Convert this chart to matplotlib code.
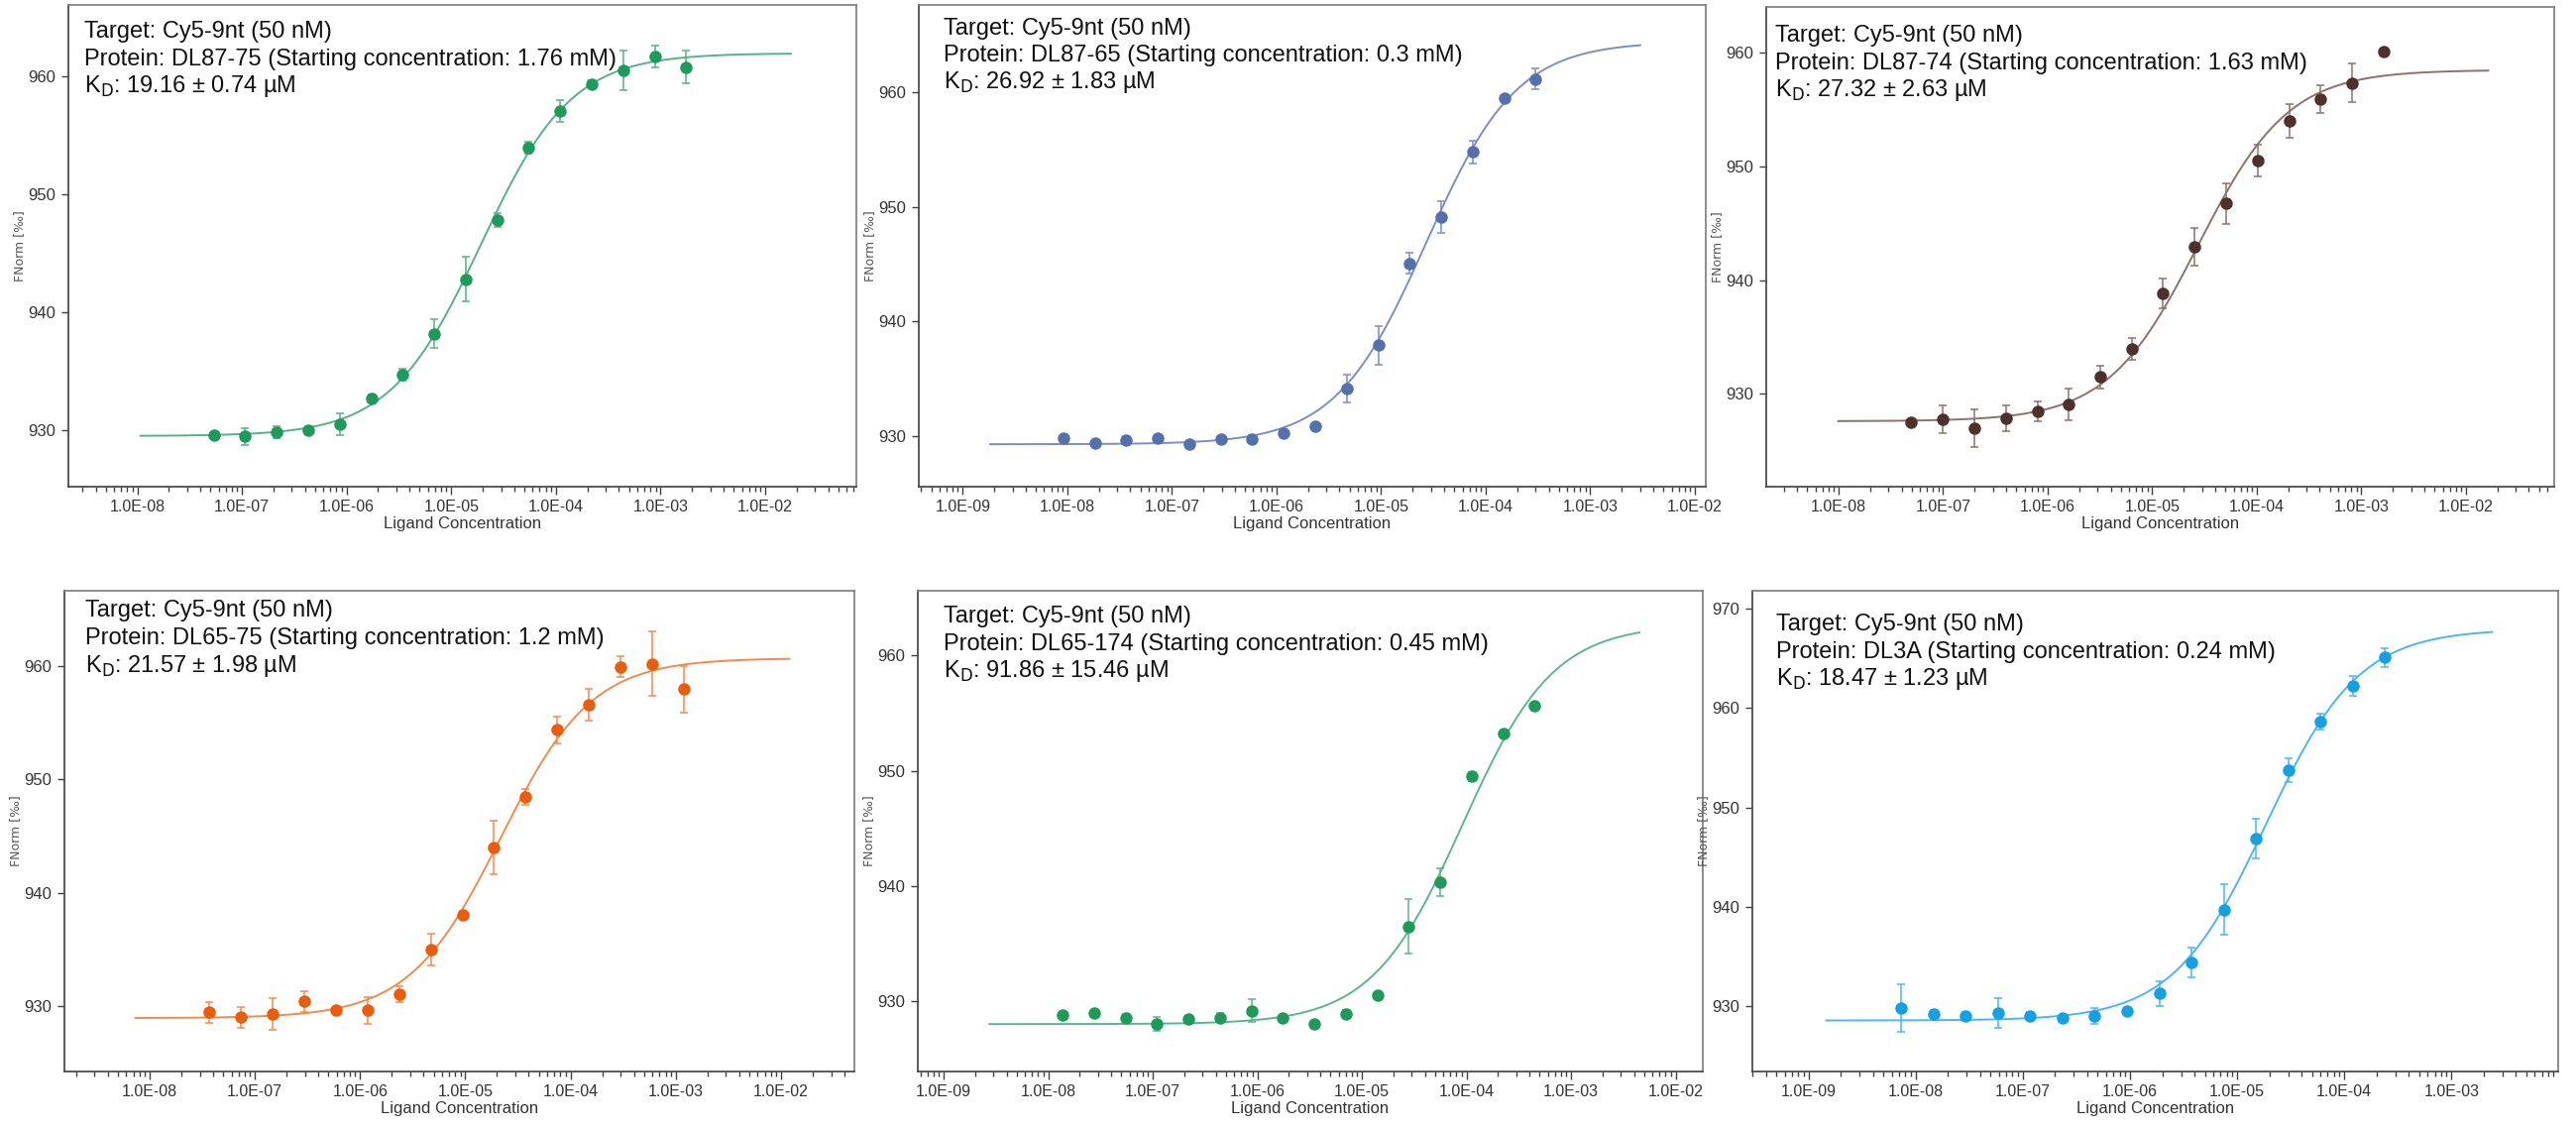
import numpy as np
import matplotlib
matplotlib.use("Agg")
import matplotlib.pyplot as plt
from matplotlib.ticker import FixedLocator, FuncFormatter, LogLocator, NullFormatter

plt.rcParams['font.family'] = ['Liberation Sans Narrow', 'Liberation Sans', 'DejaVu Sans']
plt.rcParams['mathtext.fontset'] = 'custom'
plt.rcParams['mathtext.rm'] = 'Liberation Sans Narrow'

W, H = 2599, 1137

# ---- data, concentrations in M, low -> high ----
conc_1 = [5.37e-8, 1.07e-7, 2.15e-7, 4.30e-7, 8.59e-7, 1.72e-6, 3.44e-6, 6.88e-6,
          1.375e-5, 2.75e-5, 5.5e-5, 1.1e-4, 2.2e-4, 4.4e-4, 8.8e-4, 1.76e-3]
fnorm_1 = [929.55, 929.46, 929.8, 930.0, 930.5, 932.7, 934.74, 938.2,
           942.8, 947.85, 954.0, 957.1, 959.4, 960.54, 961.74, 960.84]
err_1 = [0.3, 0.7, 0.5, 0.3, 0.9, 0.3, 0.5, 1.2, 1.9, 0.6, 0.5, 0.9, 0.3, 1.65, 0.9, 1.4]

conc_2 = [9.16e-9, 1.83e-8, 3.66e-8, 7.32e-8, 1.46e-7, 2.93e-7, 5.86e-7, 1.17e-6,
          2.34e-6, 4.69e-6, 9.38e-6, 1.875e-5, 3.75e-5, 7.5e-5, 1.5e-4, 3.0e-4]
fnorm_2 = [929.8, 929.44, 929.63, 929.8, 929.29, 929.75, 929.72, 930.3,
           930.84, 934.18, 937.92, 945.06, 949.1, 954.8, 959.45, 961.15]
err_2 = [0.2, 0.2, 0.35, 0.2, 0.2, 0.2, 0.35, 0.2, 0.2, 1.2, 1.65, 0.9, 1.35, 1.0, 0.3, 0.9]

conc_3 = [4.97e-8, 9.95e-8, 1.99e-7, 3.98e-7, 7.96e-7, 1.59e-6, 3.18e-6, 6.37e-6,
          1.27e-5, 2.55e-5, 5.09e-5, 1.02e-4, 2.04e-4, 4.08e-4, 8.15e-4, 1.63e-3]
fnorm_3 = [927.51, 927.76, 926.98, 927.85, 928.47, 929.07, 931.5, 933.94,
           938.83, 942.93, 946.76, 950.5, 954.0, 955.95, 957.35, 960.16]
err_3 = [0.3, 1.2, 1.65, 1.1, 0.85, 1.4, 1.0, 0.95, 1.3, 1.65, 1.8, 1.4, 1.5, 1.2, 1.7, 0.2]

conc_4 = [3.66e-8, 7.32e-8, 1.46e-7, 2.93e-7, 5.86e-7, 1.17e-6, 2.34e-6, 4.69e-6,
          9.38e-6, 1.875e-5, 3.75e-5, 7.5e-5, 1.5e-4, 3.0e-4, 6.0e-4, 1.2e-3]
fnorm_4 = [929.46, 929.02, 929.27, 930.41, 929.62, 929.62, 931.04, 934.97,
           938.07, 944.0, 948.5, 954.37, 956.58, 959.94, 960.22, 957.97]
err_4 = [0.9, 0.9, 1.4, 0.9, 0.3, 1.15, 0.7, 1.4, 0.3, 2.4, 0.7, 1.2, 1.4, 0.9, 2.85, 2.05]

conc_5 = [1.37e-8, 2.75e-8, 5.49e-8, 1.10e-7, 2.20e-7, 4.39e-7, 8.79e-7, 1.76e-6,
          3.52e-6, 7.03e-6, 1.41e-5, 2.81e-5, 5.63e-5, 1.125e-4, 2.25e-4, 4.5e-4]
fnorm_5 = [928.82, 929.04, 928.54, 928.07, 928.47, 928.6, 929.19, 928.6,
           928.04, 928.88, 930.53, 936.5, 940.33, 949.53, 953.25, 955.65]
err_5 = [0.2, 0.2, 0.35, 0.6, 0.2, 0.4, 1.0, 0.2, 0.2, 0.35, 0.2, 2.35, 1.2, 0.4, 0.2, 0.2]

conc_6 = [7.32e-9, 1.46e-8, 2.93e-8, 5.86e-8, 1.17e-7, 2.34e-7, 4.69e-7, 9.38e-7,
          1.875e-6, 3.75e-6, 7.5e-6, 1.5e-5, 3.0e-5, 6.0e-5, 1.2e-4, 2.4e-4]
fnorm_6 = [929.82, 929.24, 929.03, 929.28, 928.99, 928.84, 928.99, 929.53,
           931.26, 934.4, 939.7, 946.9, 953.75, 958.63, 962.24, 965.09]
err_6 = [2.4, 0.35, 0.4, 1.5, 0.4, 0.2, 0.8, 0.2, 1.25, 1.5, 2.55, 2.0, 1.2, 0.8, 1.0, 0.95]

# fit parameters: unbound, bound, KD (uM)
fit_1 = (929.5, 962.0, 19.16)
fit_2 = (929.3, 964.4, 26.92)
fit_3 = (927.6, 958.5, 27.32)
fit_4 = (928.95, 960.7, 21.57)
fit_5 = (928.04, 962.7, 91.86)
fit_6 = (928.56, 967.95, 18.47)

proteins = ["DL87-75", "DL87-65", "DL87-74", "DL65-75", "DL65-174", "DL3A"]
start_conc = ["1.76", "0.3", "1.63", "1.2", "0.45", "0.24"]
kd_text = ["19.16 \u00b1 0.74", "26.92 \u00b1 1.83", "27.32 \u00b1 2.63",
           "21.57 \u00b1 1.98", "91.86 \u00b1 15.46", "18.47 \u00b1 1.23"]

# ---- styling / layout ----
dot_colors = ["#1e9a5a", "#5470ad", "#4f302b", "#e85e0c", "#1e9a5a", "#16a0e4"]
line_colors = ["#56b286", "#7a8ec3", "#8e716b", "#f08b4e", "#5cb68a", "#4cb6ec"]
# axes boxes in pixels: left, top, right, bottom
boxes = [(69, 5, 864, 491), (927, 5, 1721, 491), (1782, 7, 2577, 491),
         (65, 596, 862, 1081), (926, 596, 1718, 1081), (1768, 596, 2581, 1081)]
xlims = [(-8.659, -1.128), (-9.42, -1.896), (-8.692, -1.156),
         (-8.81, -1.303), (-9.247, -1.74), (-9.524, -2.004)]
ylims = [(925.2, 966.1), (925.6, 967.6), (921.84, 964.05),
         (924.24, 966.65), (923.93, 965.63), (923.43, 971.8)]
text_pos = [(16, (33, 61, 88)), (25, (30, 57, 84)), (9, (35, 63, 90)),
            (21, (26, 54, 82)), (26, (32, 60, 87)), (24, (40, 68, 95))]

concs = [conc_1, conc_2, conc_3, conc_4, conc_5, conc_6]
fnorms = [fnorm_1, fnorm_2, fnorm_3, fnorm_4, fnorm_5, fnorm_6]
errs = [err_1, err_2, err_3, err_4, err_5, err_6]
fits = [fit_1, fit_2, fit_3, fit_4, fit_5, fit_6]


def kd_model(c, unbound, bound, kd, target=50e-9):
    s = c + target + kd
    frac = (s - np.sqrt(s * s - 4 * c * target)) / (2 * target)
    return unbound + (bound - unbound) * frac


fig = plt.figure(figsize=(W / 100, H / 100), dpi=100)

for i in range(6):
    l, t, r, b = boxes[i]
    ax = fig.add_axes([l / W, 1 - b / H, (r - l) / W, (b - t) / H])
    c = np.array(concs[i])
    unb, bnd, kd = fits[i]
    cc = np.logspace(np.log10(c.min() / 5), np.log10(c.max() * 10), 400)
    ax.plot(cc, kd_model(cc, unb, bnd, kd * 1e-6), color=line_colors[i], lw=1.4, zorder=2)
    ax.errorbar(c, fnorms[i], yerr=errs[i], fmt='none', ecolor=line_colors[i],
                elinewidth=1.1, capsize=3.2, capthick=1.1, zorder=3)
    ax.plot(c, fnorms[i], 'o', color=dot_colors[i], ms=9, mec='none', zorder=4)

    ax.set_xscale('log')
    ax.set_xlim(10 ** xlims[i][0], 10 ** xlims[i][1])
    ax.set_ylim(*ylims[i])
    decades = [e for e in range(-9, -1) if xlims[i][0] <= e <= xlims[i][1]]
    ax.xaxis.set_major_locator(FixedLocator([10.0 ** e for e in decades]))
    ax.xaxis.set_major_formatter(FuncFormatter(
        lambda v, p: "1.0E-%02d" % int(round(-np.log10(v)))))
    ax.xaxis.set_minor_locator(LogLocator(base=10, subs=np.arange(2, 10), numticks=50))
    ax.xaxis.set_minor_formatter(NullFormatter())
    top_tick = 970 if ylims[i][1] > 970 else 960
    ax.set_yticks(np.arange(930, top_tick + 1, 10))

    ax.tick_params(axis='x', which='major', length=6, width=1, color='#404040',
                   labelsize=11.5, pad=3, labelcolor='#333333')
    ax.tick_params(axis='x', which='minor', length=3.5, width=1, color='#404040')
    ax.tick_params(axis='y', which='major', length=5, width=1, color='#404040',
                   labelsize=12, pad=4, labelcolor='#333333')
    for side in ['left', 'bottom']:
        ax.spines[side].set_color('#404040')
        ax.spines[side].set_linewidth(1.2)
    for side in ['top', 'right']:
        ax.spines[side].set_color('#7a7a7a')
        ax.spines[side].set_linewidth(1.2)

    ax.set_xlabel("Ligand Concentration", fontsize=12, color='#333333', labelpad=2)
    ax.set_ylabel("FNorm [\u2030]", fontsize=9, color='#555555',
                  family='DejaVu Sans', labelpad=2)

    dx, ys = text_pos[i]
    lines = ["Target: Cy5-9nt (50 nM)",
             "Protein: %s (Starting concentration: %s mM)" % (proteins[i], start_conc[i]),
             r"K$_{\mathrm{D}}$: " + kd_text[i] + " \u00b5M"]
    for txt, dy in zip(lines, ys):
        ax.annotate(txt, xy=(0, 1), xycoords='axes fraction', xytext=(dx, -dy),
                    textcoords='offset pixels', fontsize=17, va='baseline',
                    ha='left', color='#111111')

fig.savefig("out.png", dpi=100)
